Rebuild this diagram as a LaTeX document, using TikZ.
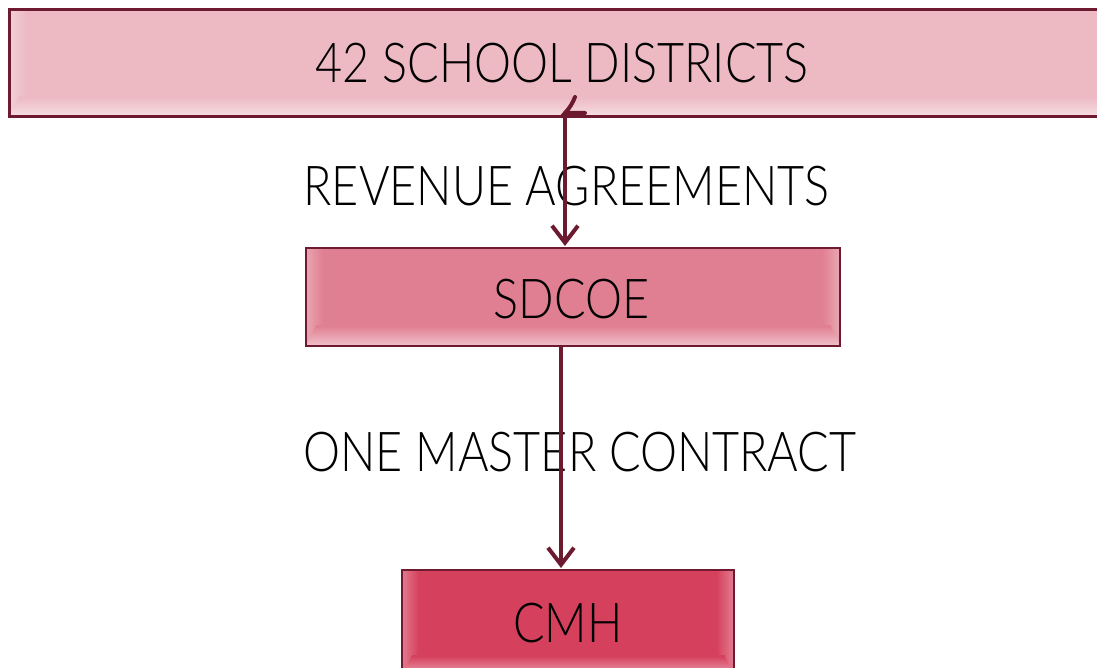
\documentclass[tikz,border=0pt]{standalone}
\usepackage{fontspec}
\setmainfont{Lato}[UprightFont={* Light}, FakeStretch=0.85]
\usepackage{tikz}
\usetikzlibrary{arrows.meta}
\definecolor{boxedge}{HTML}{6E1A30}
\definecolor{arrowred}{HTML}{6B1A2F}
\definecolor{pinktop}{HTML}{EDBAC4}
\definecolor{pinkmid}{HTML}{E07F91}
\definecolor{pinklow}{HTML}{D5405D}
\tikzset{
  glowbox/.style={draw=boxedge, line width=2pt, fill=#1, inner sep=0pt, font=\fontsize{55}{60}\selectfont,
    path picture={
      \foreach \i in {0,...,17}{
        \pgfmathsetmacro\p{70+30*\i/17}
        \fill[#1!\p!white] ([xshift=\i*1pt]path picture bounding box.south west) rectangle ([xshift=\i*1pt+1.5pt]path picture bounding box.north west);
        \fill[#1!\p!white] ([xshift=-\i*1pt]path picture bounding box.south east) rectangle ([xshift=-\i*1pt-1.5pt]path picture bounding box.north east);
      }
      \foreach \i in {0,...,19}{
        \pgfmathsetmacro\p{50+50*\i/19}
        \fill[#1!\p!white] ([xshift=\i*0.5pt, yshift=\i*1pt]path picture bounding box.south west) rectangle ([xshift=-\i*0.5pt, yshift=\i*1pt+1.5pt]path picture bounding box.south east);
      }
    }},
  flowlabel/.style={font=\fontsize{55}{60}\selectfont, inner sep=0pt},
  flowarrow/.style={draw=arrowred, line width=4pt, line cap=round, -{Straight Barb[length=17pt,width=26pt]}}
}
\begin{document}
\begin{tikzpicture}[x=1pt,y=1pt]
            \useasboundingbox (0,0) rectangle (1097,668);
            % boxes
            \node[glowbox=pinktop, line width=3pt, minimum width=1106pt, minimum height=107pt] (districts) at (562,604.5) {42 SCHOOL DISTRICTS};
            \node[glowbox=pinkmid, minimum width=534pt, minimum height=98pt] (sdcoe) at (573,371) {};
            \node[flowlabel] (sdcoetext) at (571.5,369) {SDCOE};
            \node[glowbox=pinklow, minimum width=332pt, minimum height=106pt] (cmh) at (568,45) {CMH};
            % labels
            \node[flowlabel] (revenue) at (566.5,482) {REVENUE AGREEMENTS};
            \node[flowlabel] (master) at (580,215.5) {ONE MASTER CONTRACT};
            % arrows
            \coordinate (hook) at (565,555);
            \coordinate (hooka) at (575,571);
            \coordinate (hookb) at (585,555);
            \coordinate (drop) at (561,0);
            \draw[draw=arrowred, line width=4pt, line cap=round] (hooka) to[bend left=10] (hook) -- (hookb);
            \draw[flowarrow] (hook) -- ([yshift=1pt]sdcoe.north -| hook);
            \draw[flowarrow] (sdcoe.south -| drop) -- ([yshift=1pt]cmh.north -| drop);
\end{tikzpicture}
\end{document}
